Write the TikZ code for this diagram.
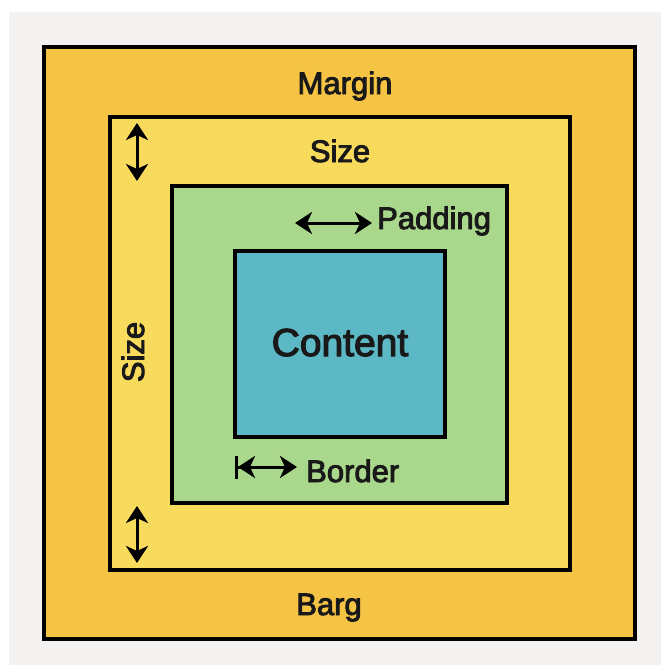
\documentclass[tikz,border=0pt]{standalone}
\usepackage{fontspec}
\setmainfont{Liberation Sans}[FakeBold=3]
\usetikzlibrary{arrows.meta}
\definecolor{bgc}{HTML}{F3F2F0}
\definecolor{orangec}{HTML}{F5C445}
\definecolor{yellowc}{HTML}{F8DA5C}
\definecolor{greenc}{HTML}{A9D78B}
\definecolor{bluec}{HTML}{5DB8C5}
\tikzset{
  layer/.style={draw=black, line width=4pt, inner sep=0pt, outer sep=0pt, anchor=north west},
  lbl/.style={inner sep=0pt, font=\fontsize{31}{31}\selectfont, text=black!90},
  tip/.tip={Stealth[length=17pt,width=22pt,inset=5pt]},
  dbl/.style={line width=3pt, {tip}-{tip}},
}
\begin{document}
\begin{tikzpicture}[x=1pt,y=-1pt]
\useasboundingbox (0,0) rectangle (661,665);
\fill[white] (0,0) rectangle (661,665);
\fill[bgc] (9,12) rectangle (661,665);
\node[layer, fill=orangec, minimum width=591pt, minimum height=592pt] (margin) at (44,47) {};
\node[layer, fill=yellowc, minimum width=460pt, minimum height=453pt] (size) at (110,117) {};
\node[layer, fill=greenc, minimum width=335pt, minimum height=317pt] (padding) at (172,186) {};
\node[layer, fill=bluec, minimum width=210pt, minimum height=186pt] (content) at (235,251) {};
\node[lbl, anchor=base] (tmargin) at (345,94) {Margin};
\node[lbl, anchor=base] (tsize) at (340,162) {Size};
\node[lbl, anchor=base west] (tpadding) at (377,229) {Padding};
\node[lbl, anchor=base, font=\fontsize{39}{39}\selectfont] (tcontent) at (340,356) {Content};
\node[lbl, anchor=base west] (tborder) at (306,482) {Border};
\node[lbl, anchor=base] (tbarg) at (329,615) {Barg};
\node[lbl, anchor=base, rotate=90] (tsidesize) at (144,352) {Size};
\coordinate (a1s) at (137,123); \coordinate (a1e) at (137,181);
\coordinate (a2s) at (137,506); \coordinate (a2e) at (137,563);
\coordinate (a3s) at (295,223); \coordinate (a3e) at (372,223);
\coordinate (a4s) at (235,467); \coordinate (a4e) at (297,467);
\draw[dbl] (a1s) -- (a1e);
\draw[dbl] (a2s) -- (a2e);
\draw[dbl] (a3s) -- (a3e);
\draw[line width=3pt, {Bar[width=23pt,line width=3pt]tip}-{tip}] (a4s) -- (a4e);
\end{tikzpicture}
\end{document}
